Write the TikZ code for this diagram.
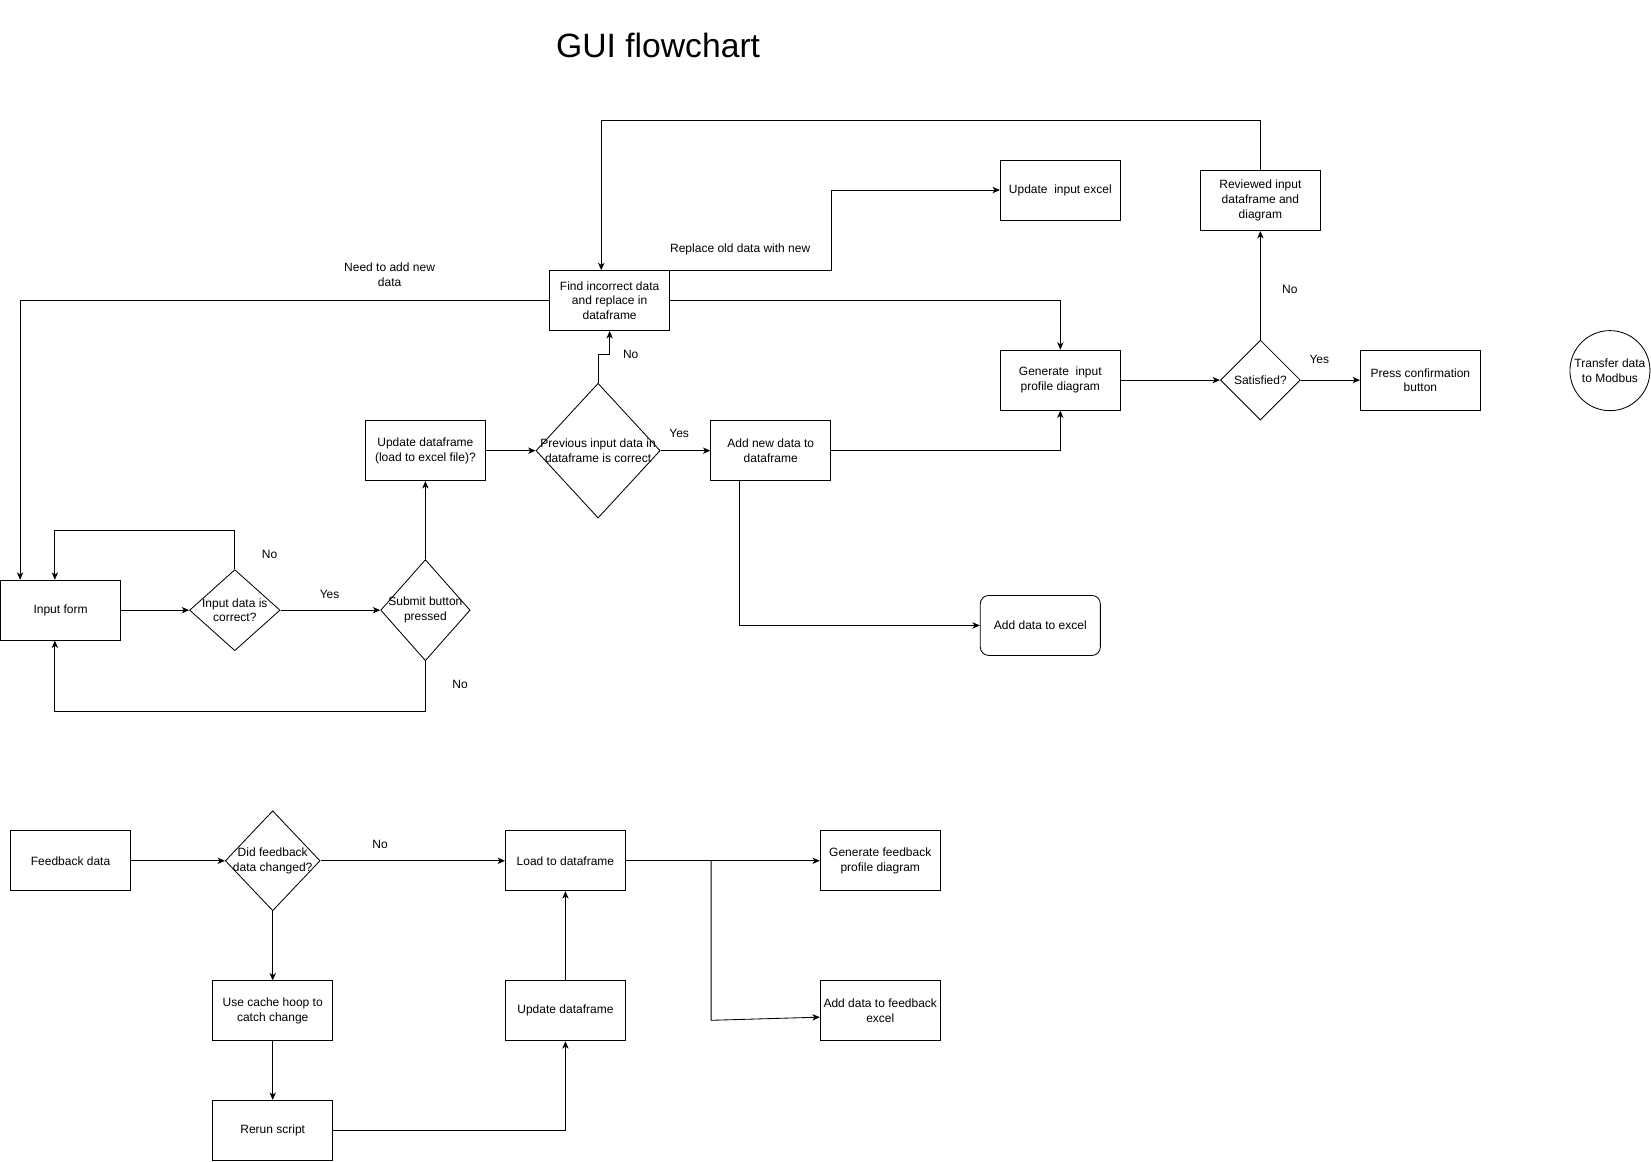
\documentclass[tikz,border=0pt]{standalone}
\usepackage{fontspec}
\setmainfont{Liberation Sans}
\usetikzlibrary{arrows.meta,shapes.geometric,calc}
\begin{document}
\begin{tikzpicture}[x=1pt,y=-1pt,
  font=\fontsize{11.4}{14}\selectfont,
  box/.style={draw, line width=0.8pt, minimum width=114pt, minimum height=57pt, inner sep=1pt, align=center},
  dia/.style={draw, diamond, line width=0.8pt, inner sep=0pt},
  conn/.style={line width=0.8pt, -{Stealth[length=7pt,width=6pt,inset=2pt]}},
  lbl/.style={align=center, inner sep=0pt}
]
\useasboundingbox (0,0) rectangle (1568,1103);
\node[font=\fontsize{32}{38}\selectfont] (title) at (625,43) {GUI flowchart};

% top section
\node[box] (in) at (57.5,579.5) {Input form};
\node[dia, minimum width=86pt, minimum height=77pt, label={[lbl]center:{Input data is\\correct?}}] (dc) at (223,579.5) {};
\node[dia, minimum width=85pt, minimum height=96pt, label={[lbl]center:{Submit button\\pressed}}] (sb) at (404,579.5) {};
\node[box] (ud) at (404,428) {Update dataframe\\(load to excel file)?};
\node[dia, minimum width=118pt, minimum height=128pt, label={[lbl]center:{Previous input data in\\dataframe is correct}}] (pv) at (568,428) {};
\node[box] (fi) at (579,285.5) {Find incorrect data\\and replace in\\dataframe};
\node[box] (an) at (732,428) {Add new data to\\dataframe};
\node[box] (ue) at (1007,180.5) {Update\ \ input excel};
\node[box] (gi) at (1007,361) {Generate\ \ input\\profile diagram};
\node[dia, minimum width=76pt, minimum height=76pt, label={[lbl]center:{Satisfied?}}] (sf) at (1197,361) {};
\node[box] (rv) at (1197,190.5) {Reviewed input\\dataframe and\\diagram};
\node[box] (pc) at (1349,361) {Press confirmation\\button};
\node[draw, circle, line width=0.8pt, minimum size=76pt, inner sep=0pt, align=center] (tm) at (1529,352) {Transfer data\\to Modbus};
\node[box, rounded corners=8pt] (ae) at (988,594) {Add data to excel};

% bottom section
\node[box] (fb) at (67,817.5) {Feedback data};
\node[dia, minimum width=90pt, minimum height=95pt, label={[lbl]center:{Did feedback\\data changed?}}] (dd) at (259,817.5) {};
\node[box] (ld) at (537,817.5) {Load to dataframe};
\node[box] (gf) at (836,817.5) {Generate feedback\\profile diagram};
\node[box] (af) at (836,960) {Add data to feedback\\excel};
\node[box] (uc) at (259,960) {Use cache hoop to\\catch change};
\node[box] (u2) at (537,960) {Update dataframe};
\node[box] (rr) at (259,1073.5) {Rerun script};

% connectors top
\draw[conn] (in.east) -- (dc.west);
\draw[conn] (dc.north) -- ++(0,-37) -| ([xshift=52pt]in.north west);
\draw[conn] (dc.east) -- (sb.west);
\draw[conn] (sb.south) -- ++(0,48) -| ([xshift=52pt]in.south west);
\draw[conn] (sb.north) -- (ud.south);
\draw[conn] (ud.east) -- (pv.west);
\draw[conn] (pv.north) -- ++(0,-27) -| (fi.south);
\draw[conn] (pv.east) -- (an.west);
\draw[conn] (fi.west) -| ([xshift=19pt]in.north west);
\draw[conn] (fi.north east) -- ++(153,0) |- (ue.west);
\draw[conn] (fi.east) -| (gi.north);
\draw[conn] (an.east) -| (gi.south);
\draw[conn] ([xshift=28pt]an.south west) |- (ae.west);
\draw[conn] (gi.east) -- (sf.west);
\draw[conn] (sf.east) -- (pc.west);
\draw[conn] (sf.north) -- (rv.south);
\draw[conn] (rv.north) -- ++(0,-47) -| ([xshift=-8pt]fi.north);

% connectors bottom
\draw[conn] (fb.east) -- (dd.west);
\draw[conn] (dd.east) -- (ld.west);
\draw[conn] (dd.south) -- (uc.north);
\draw[conn] (uc.south) -- (rr.north);
\draw[conn] (rr.east) -| (u2.south);
\draw[conn] (u2.north) -- (ld.south);
\draw[conn] (ld.east) -- (gf.west);
\coordinate (br) at ([xshift=81pt,yshift=-151.5pt]ld.east);
\draw[conn] ([xshift=81pt]ld.east) -- (br) -- ([yshift=-6pt]af.west);

% labels
\node[lbl] (l1) at (256,527) {No};
\node[lbl] (l2) at (313,565) {Yes};
\node[lbl] (l3) at (437,650) {No};
\node[lbl] (l4) at (599,337) {No};
\node[lbl] (l5) at (645,412) {Yes};
\node[lbl] (l6) at (370,261) {Need to add new\\data};
\node[lbl] (l7) at (703,237) {Replace old data with new};
\node[lbl] (l8) at (1253,341) {Yes};
\node[lbl] (l9) at (1225,275) {No};
\node[lbl] (l10) at (361,802) {No};
\end{tikzpicture}
\end{document}
